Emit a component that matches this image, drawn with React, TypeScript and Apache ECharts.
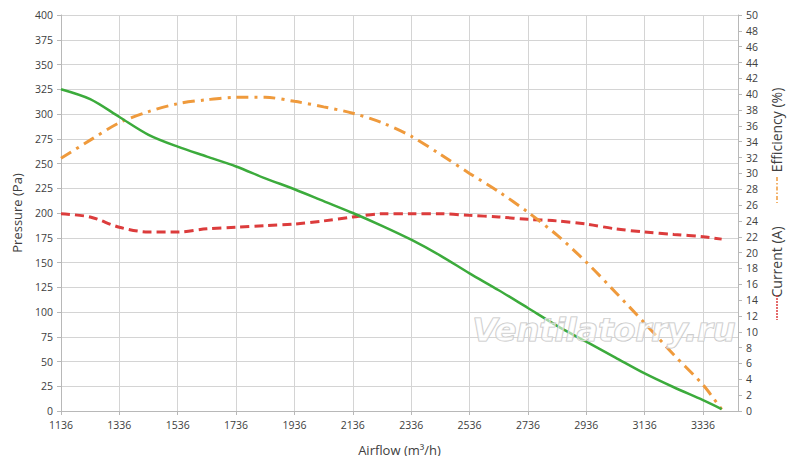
import { useEffect, useRef } from 'react'
import * as echarts from 'echarts'

// airflow points (m³/h)
const airflow = [
  1136, 1236, 1336, 1436, 1536, 1636, 1736, 1836, 1936, 2036, 2136, 2236,
  2336, 2436, 2536, 2636, 2736, 2836, 2936, 3036, 3136, 3236, 3336, 3400
]
const pressure = [
  325, 315, 297, 279, 267, 257, 247, 235, 224, 212, 200, 187,
  173, 157, 139, 122, 104, 86, 70, 54, 38, 24, 11, 2
]
const efficiency = [
  31.9, 34.2, 36.4, 37.8, 38.8, 39.3, 39.6, 39.6, 39.1, 38.4, 37.6, 36.4,
  34.7, 32.4, 30.0, 27.7, 25.1, 22.2, 18.8, 15.0, 11.1, 7.1, 3.3, 0.2
]
const current = [
  24.9, 24.5, 23.2, 22.6, 22.6, 23.0, 23.2, 23.4, 23.6, 24.0, 24.5, 24.9,
  24.9, 24.9, 24.7, 24.5, 24.2, 24.0, 23.6, 23.0, 22.6, 22.3, 22.0, 21.7
]

const FONT = 'Open Sans'
const LABEL = '#404040'
const GRID = '#d4d4d4'
const AXIS = '#b8b8b8'

const pairs = (ys: number[]) => airflow.map((x, i) => [x, ys[i]])

export default function App() {
  const chartRef = useRef<HTMLDivElement>(null)

  useEffect(() => {
    if (!chartRef.current) return
    const chart = echarts.init(chartRef.current, null, { renderer: 'svg' })

    chart.setOption({
      animation: false,
      textStyle: { fontFamily: FONT },
      grid: { left: 61, right: 62, top: 15, bottom: 53 },
      xAxis: {
        type: 'value',
        min: 1136,
        max: 3456,
        interval: 200,
        name: 'Airflow (m³/h)',
        nameLocation: 'middle',
        nameGap: 32,
        nameTextStyle: { fontFamily: FONT, fontSize: 13, color: LABEL },
        axisLine: { show: true, lineStyle: { color: AXIS } },
        axisTick: { show: true, length: 4, lineStyle: { color: AXIS } },
        axisLabel: {
          showMaxLabel: false,
          fontSize: 10.5,
          color: LABEL,
          margin: 8,
          formatter: (v: number) => String(v)
        },
        splitLine: { show: true, lineStyle: { color: GRID } }
      },
      yAxis: [
        {
          type: 'value',
          min: 0,
          max: 400,
          interval: 25,
          name: 'Pressure (Pa)',
          nameLocation: 'middle',
          nameGap: 38,
          nameRotate: 90,
          nameTextStyle: { fontFamily: FONT, fontSize: 13, color: LABEL },
          axisLine: { show: true, lineStyle: { color: AXIS } },
          axisTick: { show: true, length: 4, lineStyle: { color: AXIS } },
          axisLabel: { fontSize: 10.5, color: LABEL, margin: 8 },
          splitLine: { show: true, lineStyle: { color: GRID } }
        },
        {
          type: 'value',
          min: 0,
          max: 50,
          interval: 2,
          position: 'right',
          axisLine: { show: true, lineStyle: { color: AXIS } },
          axisTick: { show: true, length: 4, lineStyle: { color: AXIS } },
          axisLabel: { fontSize: 10.5, color: LABEL, margin: 8 },
          splitLine: { show: false }
        }
      ],
      series: [
        {
          name: 'Current',
          type: 'line',
          yAxisIndex: 1,
          smooth: 0.3,
          showSymbol: false,
          data: pairs(current),
          lineStyle: { color: '#dc3c3c', width: 3, type: [9, 5] }
        },
        {
          name: 'Efficiency',
          type: 'line',
          yAxisIndex: 1,
          smooth: 0.3,
          showSymbol: false,
          data: pairs(efficiency),
          lineStyle: { color: '#ef9a3c', width: 3, type: [12, 6, 3, 6] }
        },
        {
          name: 'Pressure',
          type: 'line',
          yAxisIndex: 0,
          smooth: 0.3,
          showSymbol: false,
          data: pairs(pressure),
          lineStyle: { color: '#3cab3c', width: 2.5 }
        }
      ],
      graphic: [
        {
          type: 'text',
          x: 776,
          y: 130,
          rotation: Math.PI / 2,
          style: {
            text: 'Efficiency (%)',
            fontFamily: FONT,
            fontSize: 14,
            fill: LABEL,
            align: 'center',
            verticalAlign: 'middle'
          }
        },
        {
          type: 'line',
          shape: { x1: 777, y1: 177, x2: 777, y2: 203 },
          style: { stroke: '#ef9a3c', lineWidth: 1.5, lineDash: [4, 2, 1.5, 2] }
        },
        {
          type: 'text',
          x: 776,
          y: 262,
          rotation: Math.PI / 2,
          style: {
            text: 'Current (A)',
            fontFamily: FONT,
            fontSize: 14,
            fill: LABEL,
            align: 'center',
            verticalAlign: 'middle'
          }
        },
        {
          type: 'line',
          shape: { x1: 777, y1: 295, x2: 777, y2: 320 },
          style: { stroke: '#dc3c3c', lineWidth: 1.5, lineDash: [2, 1] }
        },
        {
          type: 'text',
          x: 604,
          y: 330,
          z: 100,
          style: {
            text: 'Ventilatorry.ru',
            fontFamily: 'DejaVu Sans',
            fontStyle: 'italic',
            fontWeight: 'bold',
            fontSize: 32,
            fill: 'rgba(255,255,255,0.55)',
            stroke: '#c4c4c4',
            lineWidth: 1.2,
            align: 'center',
            verticalAlign: 'middle'
          }
        }
      ]
    })

    return () => {
      chart.dispose()
    }
  }, [])

  return <div ref={chartRef} style={{ width: 800, height: 464, margin: -8 }} />
}
